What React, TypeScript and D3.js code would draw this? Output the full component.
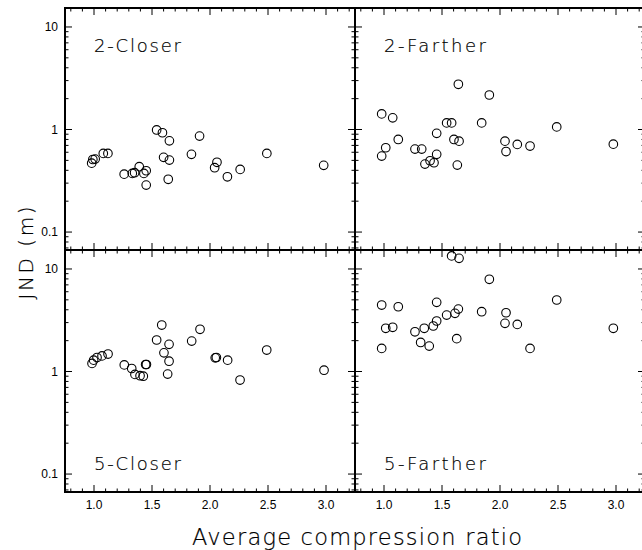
import React from "react";
import * as d3 from "d3";

// Average compression ratio (x) and JND in metres (y) for each condition
const closer2Ratio = [0.98, 0.99, 1.01, 1.08, 1.12, 1.26, 1.33, 1.35, 1.39, 1.43, 1.45, 1.45, 1.54, 1.59, 1.65, 1.6, 1.65, 1.64, 1.91, 1.84, 2.06, 2.04, 2.15, 2.26, 2.49, 2.98];
const closer2Jnd = [0.47, 0.51, 0.515, 0.585, 0.585, 0.367, 0.373, 0.379, 0.434, 0.373, 0.396, 0.287, 0.99, 0.93, 0.776, 0.535, 0.503, 0.327, 0.863, 0.573, 0.479, 0.424, 0.346, 0.408, 0.585, 0.447];

const farther2Ratio = [0.98, 1.075, 1.015, 0.98, 1.123, 1.267, 1.325, 1.454, 1.454, 1.353, 1.397, 1.431, 1.54, 1.583, 1.603, 1.647, 1.632, 1.641, 1.908, 1.842, 2.043, 2.052, 2.149, 2.259, 2.489, 2.977];
const farther2Jnd = [1.42, 1.3, 0.664, 0.551, 0.8, 0.644, 0.644, 0.917, 0.573, 0.46, 0.496, 0.474, 1.16, 1.16, 0.8, 0.77, 0.45, 2.76, 2.17, 1.16, 0.77, 0.61, 0.716, 0.69, 1.06, 0.72];

const closer5Ratio = [0.983, 0.997, 1.026, 1.069, 1.121, 1.261, 1.325, 1.353, 1.397, 1.425, 1.445, 1.452, 1.584, 1.54, 1.647, 1.603, 1.647, 1.635, 1.914, 1.842, 2.045, 2.055, 2.152, 2.259, 2.489, 2.983];
const closer5Jnd = [1.2, 1.29, 1.37, 1.42, 1.48, 1.16, 1.07, 0.937, 0.91, 0.9, 1.17, 1.17, 2.84, 2.03, 1.84, 1.52, 1.26, 0.944, 2.58, 1.98, 1.36, 1.37, 1.29, 0.826, 1.62, 1.03];

const farther5Ratio = [0.98, 1.123, 1.015, 1.075, 0.98, 1.267, 1.316, 1.39, 1.347, 1.425, 1.454, 1.454, 1.54, 1.612, 1.641, 1.627, 1.583, 1.647, 1.908, 1.842, 2.052, 2.043, 2.149, 2.259, 2.489, 2.977];
const farther5Jnd = [4.45, 4.28, 2.64, 2.7, 1.68, 2.44, 1.92, 1.77, 2.64, 2.78, 3.11, 4.73, 3.55, 3.69, 4.06, 2.09, 13.4, 12.7, 7.93, 3.83, 3.74, 2.95, 2.88, 1.68, 4.98, 2.64];

const panelLabels = ["2-Closer", "2-Farther", "5-Closer", "5-Farther"];
const xTickValues = [1.0, 1.5, 2.0, 2.5, 3.0];
const yTickValues = [0.1, 1, 10];
const yTickLabels = ["0.1", "1", "10"];

const W = 642;
const H = 550;
const left = 65;
const top = 8;
const panelW = 290;
const panelH = 242;
const font = "'DejaVu Sans', 'Liberation Sans', sans-serif";
const tickFont = "'Liberation Sans', 'DejaVu Sans', sans-serif";

const panels = [
  { label: panelLabels[0], xs: closer2Ratio, ys: closer2Jnd, col: 0, row: 0 },
  { label: panelLabels[1], xs: farther2Ratio, ys: farther2Jnd, col: 1, row: 0 },
  { label: panelLabels[2], xs: closer5Ratio, ys: closer5Jnd, col: 0, row: 1 },
  { label: panelLabels[3], xs: farther5Ratio, ys: farther5Jnd, col: 1, row: 1 },
];

const x = d3.scaleLinear().domain([0.75, 3.25]).range([0, panelW]);
const y = d3.scaleLog().domain([Math.pow(10, -1.175), Math.pow(10, 1.185)]).range([panelH, 0]);

const xMinor = d3.range(8, 33).map((v) => v / 10);
const yMinor: number[] = [];
for (let e = -2; e <= 1; e++) {
  for (let k = 1; k <= 9; k++) {
    const v = k * Math.pow(10, e);
    const [lo, hi] = y.domain();
    if (v >= lo && v <= hi) yMinor.push(v);
  }
}

function Panel({ p }: { p: (typeof panels)[number] }) {
  const ox = left + p.col * panelW;
  const oy = top + p.row * panelH;
  const major = 7;
  const minor = 3.5;
  return (
    <g transform={`translate(${ox},${oy})`}>
      {/* x ticks, bottom and top edges */}
      {xMinor.map((v) => {
        const isMajor = xTickValues.some((t) => Math.abs(t - v) < 1e-6);
        const len = isMajor ? major : minor;
        return (
          <g key={"xt" + v}>
            <line x1={x(v)} x2={x(v)} y1={panelH} y2={panelH - len} stroke="#000" strokeWidth={1} />
            <line x1={x(v)} x2={x(v)} y1={0} y2={len} stroke="#000" strokeWidth={1} />
          </g>
        );
      })}
      {/* y ticks, left and right edges */}
      {yMinor.map((v) => {
        const isMajor = yTickValues.some((t) => Math.abs(t - v) < 1e-9);
        const len = isMajor ? major : minor;
        const yy = y(v);
        return (
          <g key={"yt" + v}>
            <line x1={0} x2={len} y1={yy} y2={yy} stroke="#000" strokeWidth={1} />
            <line x1={panelW} x2={panelW - len} y1={yy} y2={yy} stroke="#000" strokeWidth={1} />
          </g>
        );
      })}
      {/* markers */}
      {p.xs.map((v, i) => (
        <circle key={i} cx={x(v)} cy={y(p.ys[i])} r={4.3} fill="none" stroke="#000" strokeWidth={1.1} />
      ))}
      {/* frame */}
      <rect x={0} y={0} width={panelW} height={panelH} fill="none" stroke="#000" strokeWidth={2} />
      {/* condition label */}
      <text
        x={x(1.0)}
        y={p.row === 0 ? 44 : panelH - 22}
        fontFamily={font}
        fontWeight={200}
        fontSize={18}
        textLength={p.label.includes("Farther") ? 102 : 87}
        lengthAdjust="spacing"
        fill="#000"
        stroke="#000"
        strokeWidth={0.2}
      >
        {p.label}
      </text>
      {/* y tick labels on left column */}
      {p.col === 0 &&
        yTickValues.map((v, i) => (
          <text key={"yl" + v} x={-7} y={y(v)} dy="0.35em" textAnchor="end" fontFamily={tickFont} fontSize={12} fill="#000">
            {yTickLabels[i]}
          </text>
        ))}
      {/* x tick labels on bottom row */}
      {p.row === 1 &&
        xTickValues.map((v) => (
          <text key={"xl" + v} x={x(v)} y={panelH + 16.5} textAnchor="middle" fontFamily={tickFont} fontSize={12} fill="#000">
            {v.toFixed(1)}
          </text>
        ))}
    </g>
  );
}

export default function App() {
  return (
    <svg width={W} height={H} style={{ position: "absolute", left: 0, top: 0, background: "#fff" }}>
      <rect width={W} height={H} fill="#fff" />
      {panels.map((p) => (
        <Panel key={p.label} p={p} />
      ))}
      <text
        transform="translate(33,253) rotate(-90)"
        textAnchor="middle"
        fontFamily={font}
        fontWeight={200}
        fontSize={20}
        textLength={93}
        lengthAdjust="spacing"
        fill="#000"
        stroke="#000"
        strokeWidth={0.2}
      >
        JND (m)
      </text>
      <text
        x={357}
        y={545}
        textAnchor="middle"
        fontFamily={font}
        fontWeight={200}
        fontSize={22.5}
        textLength={330}
        lengthAdjust="spacing"
        fill="#000"
        stroke="#000"
        strokeWidth={0.2}
      >
        Average compression ratio
      </text>
    </svg>
  );
}
